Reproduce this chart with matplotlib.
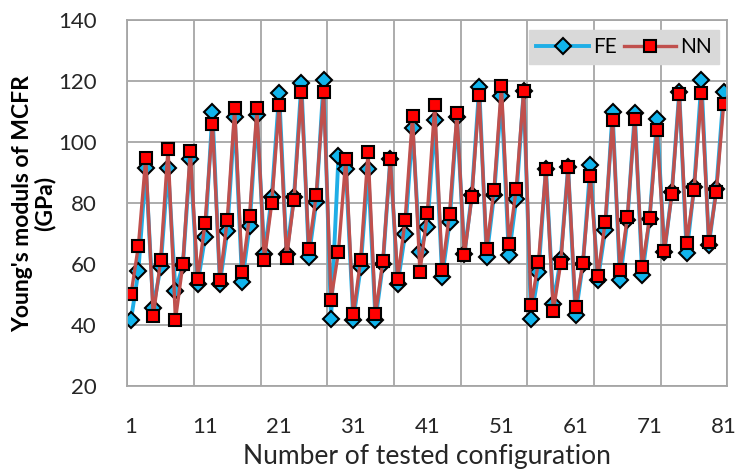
import numpy as np
import matplotlib.pyplot as plt

plt.rcParams['font.family'] = ['Lato', 'DejaVu Sans']

# configuration numbers 1..81
config = np.arange(1, 82)

fe = [41.8, 57.7, 91.6, 45.8, 59.0, 91.6, 51.4, 59.6, 94.6, 53.6,
      68.9, 110.0, 53.6, 71.0, 108.2, 54.2, 72.4, 108.8, 63.4, 82.0,
      116.0, 63.4, 82.0, 119.3, 62.4, 80.4, 120.2, 42.2, 95.3, 91.3,
      41.8, 59.0, 91.3, 41.8, 60.0, 94.6, 53.6, 70.0, 104.5, 64.0,
      72.2, 107.3, 55.8, 73.8, 108.2, 63.4, 82.6, 118.0, 62.4, 82.6,
      115.0, 62.9, 81.5, 116.7, 42.2, 57.4, 91.3, 47.1, 61.8, 91.8,
      43.3, 60.2, 92.4, 54.7, 71.1, 110.0, 54.7, 74.4, 109.5, 56.4,
      74.9, 107.7, 64.0, 83.6, 116.4, 63.7, 85.3, 120.2, 66.2, 84.7,
      116.4]

nn = [50.1, 66.0, 94.9, 42.9, 61.3, 97.8, 41.8, 60.0, 97.1, 55.3,
      73.5, 106.0, 55.0, 74.6, 111.0, 57.4, 75.7, 111.0, 61.5, 80.0,
      112.0, 62.1, 81.1, 116.4, 65.0, 82.6, 116.4, 48.4, 64.0, 94.6,
      43.6, 61.5, 96.7, 43.6, 61.0, 94.6, 55.3, 74.4, 108.4, 57.4,
      76.8, 112.0, 58.2, 76.6, 109.5, 62.9, 82.0, 115.3, 65.0, 84.4,
      118.3, 66.7, 84.7, 116.7, 46.5, 60.7, 91.3, 44.7, 60.4, 91.8,
      46.0, 60.4, 88.8, 56.0, 73.8, 107.3, 58.0, 75.5, 107.7, 59.1,
      75.2, 104.0, 64.5, 82.9, 115.6, 66.9, 84.4, 115.9, 67.3, 83.6,
      112.6]

xtick_labels = [1, 11, 21, 31, 41, 51, 61, 71, 81]

fig = plt.figure(figsize=(7.4, 4.73), dpi=100)
ax = fig.add_axes([0.172, 0.183, 0.811, 0.775])

ax.plot(config, fe, color='#1FAEE6', lw=2.8, marker='D', markersize=8.5,
        markerfacecolor='#11B4EC', markeredgecolor='black', markeredgewidth=1.5,
        label='FE')
ax.plot(config, nn, color='#C0504D', lw=2.4, marker='s', markersize=9,
        markerfacecolor='#FF0000', markeredgecolor='black', markeredgewidth=1.5,
        label='NN')

ax.set_xlim(0.5, 81.5)
ax.set_ylim(20, 140)
ax.set_yticks(np.arange(20, 141, 20))
ax.set_xticks(xtick_labels)
ax.set_xticks(np.arange(0.5, 82, 9), minor=True)
ax.grid(False)
ax.yaxis.grid(True, color='#A6A6A6', lw=1.3)
ax.xaxis.grid(True, which='minor', color='#A6A6A6', lw=1.3)
ax.set_axisbelow(True)
for s in ax.spines.values():
    s.set_color('#A6A6A6')
    s.set_linewidth(1.3)
ax.tick_params(axis='both', which='both', length=0, labelsize=16, colors='#262626')
ax.tick_params(axis='x', pad=22)
ax.tick_params(axis='y', pad=22)

ax.set_xlabel('Number of tested configuration', fontsize=19, color='#262626', labelpad=5)
ax.set_ylabel("Young's moduls of MCFR\n(GPa)", fontsize=16.5, fontweight='bold',
              color='black', linespacing=1.05, labelpad=2)

leg = ax.legend(loc='upper right', ncol=2, bbox_to_anchor=(0.993, 0.985),
                frameon=True, fancybox=False, fontsize=15, handlelength=2.5,
                columnspacing=0.35, handletextpad=0.2, borderpad=0.35,
                borderaxespad=0.2)
leg.get_frame().set_facecolor('#D9D9D9')
leg.get_frame().set_edgecolor('#D9D9D9')
leg.get_frame().set_alpha(1)

fig.savefig('out.png', dpi=100)
